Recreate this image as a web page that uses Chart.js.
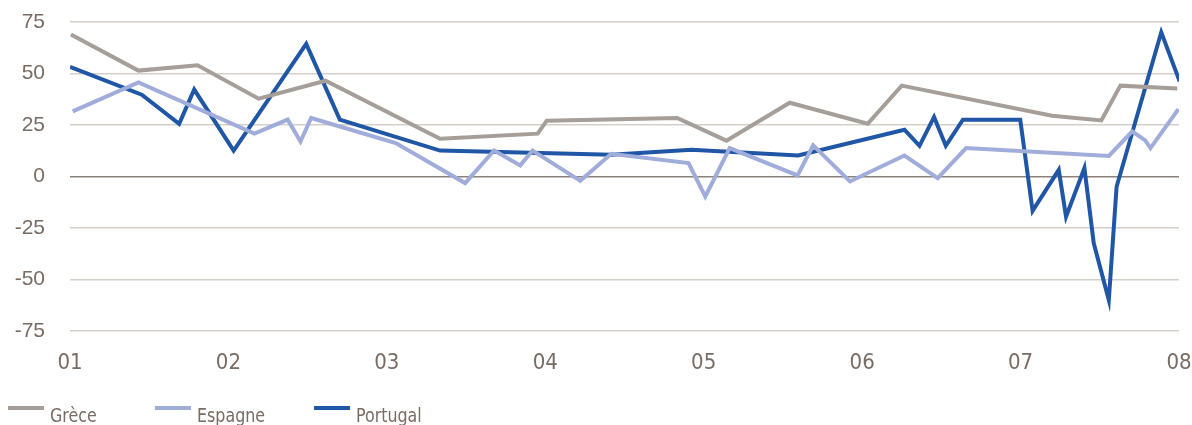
<!DOCTYPE html>
<html>
<head>
<meta charset="utf-8">
<script src="https://cdn.jsdelivr.net/npm/chart.js@4"></script>
<style>
  html, body { margin: 0; padding: 0; background: #fff; }
  #wrap { position: relative; width: 1192px; height: 425px; }
  #legend { position: absolute; left: 0; top: 396px; height: 29px; font-family: 'Liberation Sans Narrow', 'DejaVu Sans Condensed', 'Roboto Condensed', sans-serif; font-size: 19px; color: #786c64; }
  .item { position: absolute; top: 0; white-space: nowrap; }
  .swatch { position: absolute; top: 10px; width: 36px; height: 4px; }
  .lab { position: absolute; top: 8px; left: 42px; line-height: 22px; transform: scaleX(0.93); transform-origin: 0 0; }
</style>
</head>
<body>
<div id="wrap">
  <canvas id="c" width="1192" height="425"></canvas>
  <div id="legend"></div>
</div>
<script>
// Data (x = year position, 1 = "01" ... 8 = "08")
const seriesNames = ['Grèce', 'Espagne', 'Portugal'];
const xTickLabels = ['01', '02', '03', '04', '05', '06', '07', '08'];
const yTickValues = [-75, -50, -25, 0, 25, 50, 75];

const greceX = [1.006, 1.432, 1.805, 2.191, 2.613, 3.336, 3.952, 4.009, 4.833, 5.143, 5.543, 6.035, 6.250, 7.199, 7.510, 7.630, 7.989];
const greceY = [68.9, 51.4, 54.0, 37.8, 46.5, 18.3, 20.8, 27.1, 28.4, 17.4, 35.8, 25.6, 44.1, 29.5, 27.2, 44.1, 42.7];

const espagneX = [1.017, 1.432, 2.164, 2.374, 2.455, 2.522, 3.056, 3.494, 3.677, 3.842, 3.920, 4.221, 4.416, 4.904, 5.010, 5.164, 5.592, 5.691, 5.923, 6.267, 6.477, 6.656, 7.557, 7.705, 7.787, 7.820, 7.996];
const espagneY = [31.6, 45.7, 20.8, 27.6, 17.0, 28.4, 16.2, -3.2, 12.6, 5.4, 12.6, -2.1, 11.0, 6.5, -9.7, 13.8, 0.5, 15.1, -2.4, 10.2, -0.8, 13.8, 10.0, 21.9, 17.5, 13.8, 32.7];

const portugalX = [1.0, 1.453, 1.689, 1.784, 2.033, 2.491, 2.703, 3.336, 4.416, 4.922, 5.596, 6.267, 6.362, 6.454, 6.528, 6.636, 6.998, 7.076, 7.241, 7.287, 7.403, 7.462, 7.557, 7.606, 7.888, 8.004];
const portugalY = [53.2, 39.7, 25.6, 42.2, 12.6, 64.4, 27.6, 12.6, 10.5, 13.0, 10.2, 22.7, 14.9, 28.9, 14.9, 27.6, 27.6, -16.7, 3.2, -19.5, 4.1, -32.4, -60.0, -5.0, 70.0, 46.2];

const colors = ['#a69e98', '#a0acda', '#1f56a6'];
const textColor = '#786c64';

function pts(xs, ys) { return xs.map((x, i) => ({ x: x, y: ys[i] })); }

const ds = [
  { label: seriesNames[0], data: pts(greceX, greceY), borderColor: colors[0] },
  { label: seriesNames[1], data: pts(espagneX, espagneY), borderColor: colors[1] },
  { label: seriesNames[2], data: pts(portugalX, portugalY), borderColor: colors[2] }
].map(d => Object.assign(d, { borderWidth: 4, pointRadius: 0, tension: 0, fill: false, borderJoinStyle: 'miter' }));

const condensed = "'Liberation Sans Narrow', 'DejaVu Sans Condensed', 'Roboto Condensed', sans-serif";

new Chart(document.getElementById('c'), {
  type: 'line',
  data: { datasets: ds },
  options: {
    responsive: false,
    animation: false,
    events: [],
    layout: { padding: { top: 22, right: 13, left: 0, bottom: 44 } },
    plugins: { legend: { display: false }, tooltip: { enabled: false } },
    scales: {
      x: {
        type: 'linear',
        min: 1, max: 8,
        afterBuildTicks: s => { s.ticks = xTickLabels.map((_, i) => ({ value: i + 1 })); },
        ticks: {
          callback: (v) => xTickLabels[Math.round(v) - 1],
          color: textColor,
          font: { family: condensed, size: 22 },
          padding: 0,
          maxRotation: 0,
          autoSkip: false
        },
        grid: { display: true, drawOnChartArea: false, drawTicks: true, tickLength: 19, tickColor: 'rgba(0,0,0,0)', color: 'rgba(0,0,0,0)' },
        border: { display: false },
        afterFit: s => { s.height = 50; }
      },
      y: {
        min: -75, max: 75,
        afterBuildTicks: s => { s.ticks = yTickValues.map(v => ({ value: v })); },
        ticks: {
          color: textColor,
          font: { family: "'Liberation Sans', Arial, sans-serif", size: 21 },
          padding: 1
        },
        grid: {
          drawTicks: true,
          tickLength: 24,
          tickColor: 'rgba(0,0,0,0)',
          color: c => (c.tick && c.tick.value === 0) ? '#8c827a' : '#d5cfca',
          lineWidth: 1.5
        },
        border: { display: false },
        afterFit: s => { s.width = 70; }
      }
    }
  }
});

// Legend
const legend = document.getElementById('legend');
const legendLeft = [8, 155, 314];
seriesNames.forEach((n, i) => {
  const it = document.createElement('div');
  it.className = 'item';
  it.style.left = legendLeft[i] + 'px';
  const sw = document.createElement('div');
  sw.className = 'swatch';
  sw.style.background = colors[i];
  const lb = document.createElement('div');
  lb.className = 'lab';
  lb.textContent = n;
  it.appendChild(sw); it.appendChild(lb);
  legend.appendChild(it);
});
</script>
</body>
</html>
